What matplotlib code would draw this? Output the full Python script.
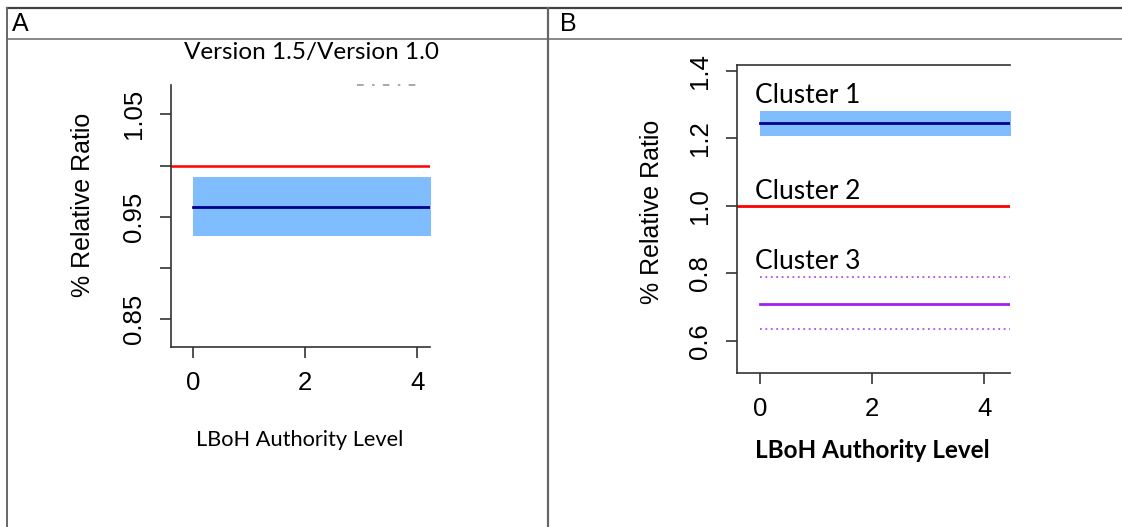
import numpy as np
import matplotlib.pyplot as plt
from matplotlib.lines import Line2D

W, H = 1122, 527

# panel A: Version 1.5 / Version 1.0
a_yticks = [0.85, 0.90, 0.95, 1.00, 1.05]
a_ylabels = ["0.85", "", "0.95", "", "1.05"]
a_ref = 1.00
a_est = 0.960
a_lo, a_hi = 0.931, 0.989

# panel B: clusters
b_yticks = [0.6, 0.8, 1.0, 1.2, 1.4]
b_ylabels = ["0.6", "0.8", "1.0", "1.2", "1.4"]
c1_est, c1_lo, c1_hi = 1.246, 1.208, 1.282
c2_ref = 1.00
c3_est, c3_lo, c3_hi = 0.710, 0.636, 0.788
cluster_names = ["Cluster 1", "Cluster 2", "Cluster 3"]
cluster_label_y = [1.326, 1.042, 0.836]

x_ticks = [0, 2, 4]
x_start = 0

fig = plt.figure(figsize=(W / 100, H / 100), dpi=100)


def px_axes(left, top, right, bottom):
    return fig.add_axes([left / W, 1 - bottom / H, (right - left) / W, (bottom - top) / H])


def fline(x0, y0, x1, y1, **kw):
    fig.add_artist(Line2D([x0 / W, x1 / W], [1 - y0 / H, 1 - y1 / H], transform=fig.transFigure, **kw))


# table grid
fline(7, 8, W, 8, color="#444444", lw=1.6)
fline(7, 38.5, W, 38.5, color="#888888", lw=1.4)
fline(7, 8, 7, H, color="#666666", lw=1.4)
fline(548, 8, 548, H, color="#666666", lw=1.6)
fig.text(12 / W, 1 - 24 / H, "A", fontsize=18, family="Liberation Sans", va="center", ha="left")
fig.text(560 / W, 1 - 24 / H, "B", fontsize=18, family="Liberation Sans", va="center", ha="left")

tick_font = dict(family="Liberation Sans", size=18.5)


def style_axes(ax):
    for s in ["left", "bottom", "top", "right"]:
        ax.spines[s].set_color("#333333")
        ax.spines[s].set_linewidth(1.2)
    ax.tick_params(direction="out", length=8, width=1.2, color="#333333")
    ax.tick_params(axis="y", pad=10)
    ax.tick_params(axis="x", pad=9)
    ax.set_xticks(x_ticks)
    ax.set_xticklabels([str(v) for v in x_ticks], fontdict=tick_font)


# ---- panel A
axA = px_axes(170.7, 85, 430, 347)
axA.set_xlim(-0.404, 4.227)
axA.set_ylim(0.823, 1.0786)
style_axes(axA)
axA.spines["top"].set_visible(False)
axA.spines["right"].set_visible(False)
axA.set_yticks(a_yticks)
axA.set_yticklabels(a_ylabels, fontdict=tick_font, rotation=90, va="center")
axA.axhline(a_ref, color="red", lw=1.8)
axA.fill_between([x_start, 5], a_lo, a_hi, color="#80bdff", lw=0)
axA.plot([x_start, 5], [a_est, a_est], color="#00008b", lw=2)
fig.text(311 / W, 1 - 52 / H, "Version 1.5/Version 1.0", family="Lato", fontsize=17.5,
         ha="center", va="center")
axA.set_ylabel("% Relative Ratio", family="Liberation Sans", fontsize=18, va="center")
axA.yaxis.set_label_coords(-0.338, 0.542)
axA.set_xlabel("LBoH Authority Level", family="Lato", fontsize=15.7, va="center")
axA.xaxis.set_label_coords(0.4987, -0.355)
# leftover of a cropped legend
fig.add_artist(Line2D([357 / W, 423 / W], [1 - 85 / H, 1 - 85 / H], transform=fig.transFigure,
                      color="#999999", lw=1.2, dashes=[4, 5, 1.5, 5]))

# ---- panel B
axB = px_axes(737.3, 65, 1010, 373.3)
axB.set_xlim(-0.404, 4.458)
axB.set_ylim(0.504, 1.417)
style_axes(axB)
axB.spines["right"].set_visible(False)
axB.set_yticks(b_yticks)
axB.set_yticklabels(b_ylabels, fontdict=tick_font, rotation=90, va="center")
axB.fill_between([x_start, 5], c1_lo, c1_hi, color="#80bdff", lw=0)
axB.plot([x_start, 5], [c1_est, c1_est], color="#00008b", lw=2)
axB.axhline(c2_ref, color="red", lw=2)
axB.plot([x_start, 5], [c3_est, c3_est], color="#a020f0", lw=2)
axB.plot([x_start, 5], [c3_lo, c3_lo], color="#b050f0", lw=1.3, ls=(0, (1, 2)))
axB.plot([x_start, 5], [c3_hi, c3_hi], color="#b050f0", lw=1.3, ls=(0, (1, 2)))
for name, yy in zip(cluster_names, cluster_label_y):
    axB.text(-0.09, yy, name, family="Lato", fontsize=19, ha="left", va="center")
axB.set_ylabel("% Relative Ratio", family="Liberation Sans", fontsize=18, va="center")
axB.yaxis.set_label_coords(-0.3128, 0.525)
axB.set_xlabel("LBoH Authority Level", family="Lato", fontsize=17.5, fontweight="bold", va="center")
axB.xaxis.set_label_coords(0.494, -0.2488)

fig.savefig("out.png", dpi=100)
